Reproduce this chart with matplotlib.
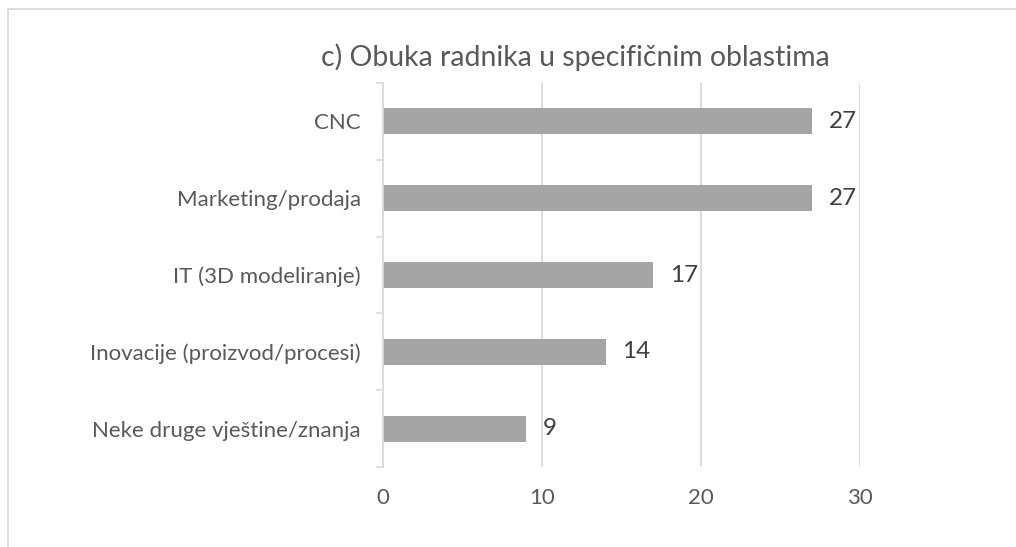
import matplotlib
matplotlib.use("Agg")
import matplotlib.pyplot as plt
from matplotlib.patches import Rectangle
import numpy as np

title = "c) Obuka radnika u specifičnim oblastima"
categories = ["CNC", "Marketing/prodaja", "IT (3D modeliranje)",
              "Inovacije (proizvod/procesi)", "Neke druge vještine/znanja"]
values = [27, 27, 17, 14, 9]
xticks = [0, 10, 20, 30]

plt.rcParams['font.family'] = ['Lato', 'DejaVu Sans']

TEXT = "#595959"
LABEL = "#404040"
GRID = "#D9D9D9"
BAR = "#A5A5A5"

fig = plt.figure(figsize=(10.16, 5.47), dpi=100)
fig.patch.set_facecolor("white")
W, H = 1016, 547

# chart border (top and left visible)
fig.add_artist(Rectangle((8 / W, -0.1), 1.2, (547 - 9) / H + 0.1,
                         transform=fig.transFigure, fill=False,
                         edgecolor=GRID, linewidth=1.3))

ax = fig.add_axes([383 / W, 1 - 467 / H, (860 - 383) / W, (467 - 83) / H])
n = len(categories)
y = np.arange(n)
ax.barh(y, values, height=0.34, color=BAR, zorder=3)
ax.set_ylim(n - 0.5, -0.5)
ax.set_xlim(0, 30)

ax.set_xticks(xticks)
ax.set_xticklabels([str(t) for t in xticks])
ax.set_yticks(y)
ax.set_yticklabels(categories)
ax.set_yticks(np.arange(-0.5, n, 1.0), minor=True)

ax.tick_params(axis='y', which='major', length=0, pad=16, labelsize=16, labelcolor=TEXT)
ax.tick_params(axis='y', which='minor', length=5, width=1.1, color=GRID, direction='out')
ax.tick_params(axis='x', which='major', length=0, pad=15, labelsize=16, labelcolor=TEXT)

for s in ['top', 'right', 'bottom']:
    ax.spines[s].set_visible(False)
ax.spines['left'].set_color(GRID)
ax.spines['left'].set_linewidth(1.3)
ax.spines['left'].set_zorder(4)

for t in xticks[1:]:
    ax.axvline(t, color=GRID, linewidth=1.3, zorder=1)

for yi, v in zip(y, values):
    ax.annotate(str(v), (v, yi), xytext=(12, 0), textcoords='offset points',
                ha='left', va='center', fontsize=17.5, color=LABEL)

fig.text(575 / W, 1 - 57 / H, title, ha='center', va='center', fontsize=20.4, color=TEXT)

fig.savefig("out.png", dpi=100, facecolor="white")
